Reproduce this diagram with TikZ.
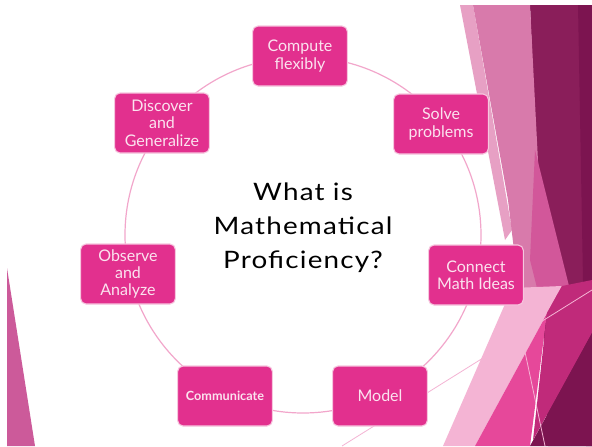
\documentclass[tikz,border=0pt]{standalone}
\usepackage{fontspec}
\setmainfont{Lato}
\newfontfamily\titlefont[FakeStretch=1.16,LetterSpace=5]{Lato}
\begin{document}
\begin{tikzpicture}[x=0.75pt,y=-0.75pt,
  ring/.style={draw=ringpink,line width=0.9pt},
  thinline/.style={draw=#1,line width=0.6pt},
  box/.style={rectangle,rounded corners=4pt,fill=boxpink,draw=boxedge,line width=0.8pt,
    minimum width=71pt,minimum height=45pt,inner sep=2pt,align=center,
    text=boxtext,font=\fontsize{12}{13}\selectfont},
  title/.style={align=center,font=\titlefont\fontsize{18}{25.5}\selectfont,text=black}]
\definecolor{boxpink}{HTML}{E2308E}
\definecolor{boxedge}{HTML}{F6C6DE}
\definecolor{boxtext}{HTML}{FBE3EF}
\definecolor{ringpink}{HTML}{F2A6CB}
\definecolor{darkplum}{HTML}{8A1E5A}
\definecolor{deepplum}{HTML}{7C1450}
\definecolor{mauve}{HTML}{D87AAB}
\definecolor{paleedge}{HTML}{E7A0C4}
\definecolor{midpink}{HTML}{D2579A}
\definecolor{brightpink}{HTML}{E6489A}
\definecolor{lightpink}{HTML}{F4B4D4}
\definecolor{magenta}{HTML}{C02A7A}
\definecolor{leftwedge}{HTML}{CC5A9A}

\useasboundingbox (0,0) rectangle (592,446);
\fill[white] (0,0) rectangle (592,446);

% facets on the right edge
\fill[darkplum] (530,5) -- (592,5) -- (592,446) -- (548,446) -- cycle;
\fill[deepplum] (578,5) -- (592,5) -- (592,446) -- (586,446) -- cycle;
\fill[paleedge] (460,5) -- (473,5) -- (512,230) -- (505,240) -- cycle;
\fill[mauve] (473,5) -- (530,5) -- (540,200) -- (540,290) -- (520,300) -- (508,200) -- cycle;
\fill[midpink] (535,150) -- (570,290) -- (540,300) -- (530,260) -- cycle;
\fill[lightpink] (443,446) -- (512,288) -- (562,286) -- (475,446) -- cycle;
\fill[brightpink] (475,446) -- (562,286) -- (547,313) -- (530,446) -- cycle;
\fill[magenta] (547,313) -- (562,286) -- (592,280) -- (592,333) -- (533,440) -- cycle;
\fill[deepplum] (530,446) -- (592,333) -- (592,446) -- cycle;
\draw[thinline=lightpink] (342,446) -- (592,290);
\draw[thinline=lightpink] (515,305) -- (545,446);

% wedge on the lower left edge
\fill[leftwedge] (7,268) -- (7,446) -- (35,446) -- cycle;

% ring through the seven strands
\draw[ring] (303,235) circle [radius=133.5pt];

\node[title] (q) at (303,228) {What is\\Mathematical\\Proficiency?};

\node[box] (compute) at (300,56) {Compute\\flexibly};
\node[box] (solve) at (441,124) {Solve\\problems};
\node[box] (connect) at (476,275) {Connect\\Math Ideas};
\node[box] (model) at (380,396) {Model};
\node[box,font=\bfseries\fontsize{9.5}{11}\selectfont] (communicate) at (225,396) {Communicate};
\node[box] (observe) at (128,274) {Observe\\and\\Analyze};
\node[box] (discover) at (162,123) {Discover\\and\\Generalize};
\end{tikzpicture}
\end{document}
